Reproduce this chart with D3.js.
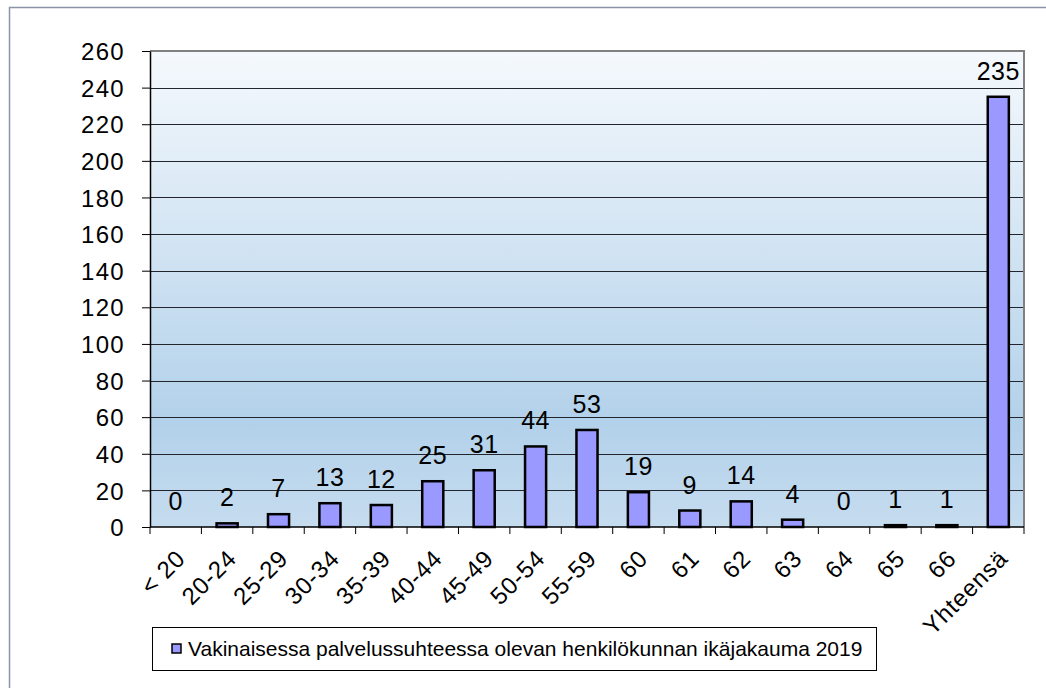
<!DOCTYPE html>
<html><head><meta charset="utf-8">
<script src="https://cdn.jsdelivr.net/npm/d3@7"></script>
<style>body{margin:0;background:#fff}svg{display:block}text{font-family:"Liberation Sans",Arial,sans-serif;fill:#000}</style>
</head><body><svg id="c" width="1046" height="688"></svg>
<script>
const categories = ["< 20","20-24","25-29","30-34","35-39","40-44","45-49","50-54","55-59","60","61","62","63","64","65","66","Yhteensä"];
const values = [0,2,7,13,12,25,31,44,53,19,9,14,4,0,1,1,235];
const yTicks = [0,20,40,60,80,100,120,140,160,180,200,220,240,260];
const seriesName = "Vakinaisessa palvelussuhteessa olevan henkilökunnan ikäjakauma 2019";

const svg = d3.select("#c");
const L = 150, R = 1024, T = 51, B = 527;
const defs = svg.append("defs");
const g = defs.append("linearGradient").attr("id","bg").attr("x1",0).attr("y1",0).attr("x2",0).attr("y2",1);
g.append("stop").attr("offset",0).attr("stop-color","#f5f9fd");
g.append("stop").attr("offset",0.78).attr("stop-color","#b2d1ea");
g.append("stop").attr("offset",1).attr("stop-color","#c6dcef");

svg.append("rect").attr("x",9.5).attr("y",7.5).attr("width",1100).attr("height",760)
  .attr("fill","none").attr("stroke","#8a94a6").attr("stroke-width",1.5);

const x = d3.scaleBand().domain(categories).range([L,R]).padding(0);
const y = d3.scaleLinear().domain([0,260]).range([B,T]);

svg.append("rect").attr("x",L).attr("y",T).attr("width",R-L).attr("height",B-T).attr("fill","url(#bg)");

svg.append("g").selectAll("line").data(yTicks.filter(d=>d>0&&d<260)).join("line")
  .attr("x1",L).attr("x2",R).attr("y1",d=>Math.round(y(d))+0.5).attr("y2",d=>Math.round(y(d))+0.5)
  .attr("stroke","#22262c").attr("stroke-width",1.2);

svg.append("path").attr("d",`M${L},${T}H${R}V${B}`).attr("fill","none").attr("stroke","#808080").attr("stroke-width",2);

const ya = svg.append("g").attr("transform",`translate(${L},0)`)
  .call(d3.axisLeft(y).tickValues(yTicks).tickSize(8).tickPadding(17).tickSizeOuter(0));
ya.select(".domain").attr("stroke","#000").attr("stroke-width",1.5);
ya.selectAll(".tick line").attr("stroke","#000");
ya.selectAll("text").style("font-size","24px").style("letter-spacing","1.3px").attr("fill","#000").attr("dy","0.36em");

const xa = svg.append("g").attr("transform",`translate(0,${B})`);
xa.append("line").attr("x1",L).attr("x2",R).attr("y1",0).attr("y2",0).attr("stroke","#000").attr("stroke-width",1.5);
const bounds = categories.map(c=>x(c)).concat([R]);
xa.selectAll("line.t").data(bounds).join("line").attr("class","t")
  .attr("x1",d=>d).attr("x2",d=>d).attr("y1",0).attr("y2",7).attr("stroke","#000");
xa.selectAll("text").data(categories).join("text")
  .attr("transform",d=>`translate(${x(d)+x.bandwidth()/2+5},${27}) rotate(-45)`)
  .attr("text-anchor","end").attr("dy","0.35em").style("font-size","24px").style("letter-spacing","0.8px").text(d=>d);

const bw = x.bandwidth()*0.41;
svg.append("g").selectAll("rect").data(values).join("rect")
  .attr("x",(d,i)=>x(categories[i])+(x.bandwidth()-bw)/2)
  .attr("y",d=>y(d)).attr("width",bw).attr("height",d=>y(0)-y(d))
  .attr("fill","#9999ff").attr("stroke","#000").attr("stroke-width",2.5);

svg.append("g").selectAll("text").data(values).join("text")
  .attr("x",(d,i)=>x(categories[i])+x.bandwidth()/2).attr("y",d=>y(d)-17)
  .attr("text-anchor","middle").style("font-size","25px").style("letter-spacing","0.5px").text(d=>d);

const lg = svg.append("g");
lg.append("rect").attr("x",152.5).attr("y",627.5).attr("width",724).attr("height",43)
  .attr("fill","#fff").attr("stroke","#000").attr("stroke-width",1);
lg.append("rect").attr("x",172).attr("y",644).attr("width",9).attr("height",9)
  .attr("fill","#9999ff").attr("stroke","#000").attr("stroke-width",1.5);
lg.append("text").attr("x",188).attr("y",656).style("font-size","21px").text(seriesName);
</script></body></html>
